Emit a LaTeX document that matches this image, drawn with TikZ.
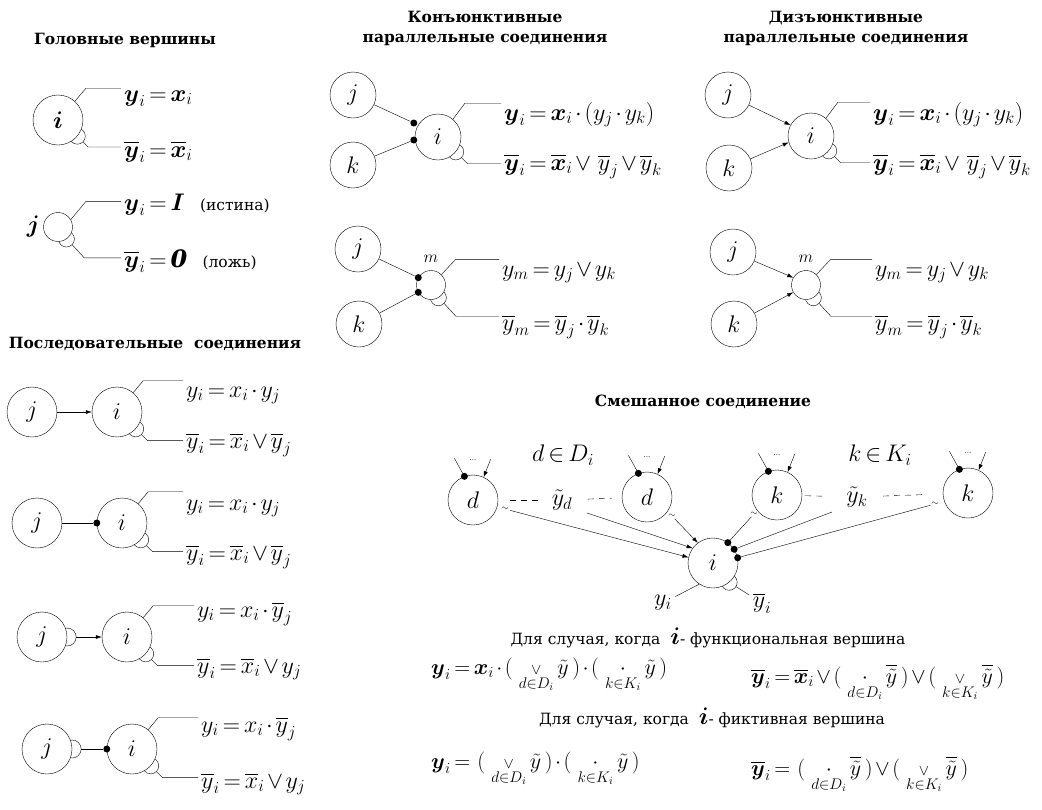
\RequirePackage{fix-cm}
\documentclass[tikz,border=0pt]{standalone}
\usepackage{amsmath}
\usepackage{fontspec}
\setmainfont{DejaVu Serif}
\usetikzlibrary{arrows.meta, calc}
\pgfdeclarelayer{behind}
\pgfsetlayers{behind,main}
\newcommand{\yy}{\boldsymbol{y}}
\newcommand{\xx}{\boldsymbol{x}}
\newcommand{\nyy}{\overline{\boldsymbol{y}}}
\newcommand{\nxx}{\overline{\boldsymbol{x}}}
\newcommand{\fmlfont}{\fontsize{24}{28}\selectfont}
\newcommand{\mixfont}{\fontsize{22}{26}\selectfont}
\newcommand{\txtfont}{\fontsize{15.5}{19}\selectfont}
\newcommand{\opor}[1]{\mathop{{\scriptstyle\vee}}\limits_{#1}}
\newcommand{\opand}[1]{\mathop{\cdot}\limits_{#1}}
\newcommand{\lp}{(\mkern5mu}
\newcommand{\rp}{\mkern3mu)}
\thickmuskip=3mu plus 2mu
\medmuskip=2mu plus 1mu

\begin{document}
\begin{tikzpicture}[x=1pt, y=-1pt,
  >={Latex[length=6pt,width=4pt]},
  font=\txtfont,
  title/.style={font=\fontsize{15.5}{20}\selectfont\bfseries, align=center},
  vert/.style={draw, circle, fill=white, inner sep=0pt, minimum size=50pt,
               font=\fontsize{24}{24}\selectfont},
  midvert/.style={vert, minimum size=46pt},
  fict/.style={vert, minimum size=29pt},
  inv/.style={draw, circle, inner sep=0pt, minimum size=16pt},
  jdot/.style={circle, fill, inner sep=0pt, minimum size=7pt},
  fml/.style={anchor=base west, inner sep=3pt, font=\fmlfont},
  tl/.style={inner sep=1pt, font=\fontsize{9}{9}\selectfont},
  ellip/.style={inner sep=0pt, font=\fontsize{7}{7}\selectfont},
  dashline/.style={dash pattern=on 6pt off 5pt}
]
\begin{pgfonlayer}{behind}
  \fill[white] (0,0) rectangle (1042,809);
\end{pgfonlayer}
\useasboundingbox (0,0) rectangle (1042,809);

% головные вершины
\node[title] (t1) at (125,40) {Головные вершины};
\node[vert] (hi) at (58,120) {$\boldsymbol{i}$};
\node[fict, label={[font=\fontsize{24}{24}\selectfont]left:$\boldsymbol{j}$}] (hj) at (58,227) {};
\node[fml] (hi1) at (121,101) {$\yy_i = \xx_i$};
\node[fml] (hi2) at (121,157) {$\nyy_i = \nxx_i$};
\node[fml] (hj1) at (121,210) {$\yy_i = \boldsymbol{I}$\ \ {\txtfont(истина)}};
\node[fml] (hj2) at (121,267) {$\nyy_i = \boldsymbol{\mathit{0}}$\ \ {\txtfont(ложь)}};
\begin{pgfonlayer}{behind}
  \node[inv] (hil) at (hi.-40) {};
  \node[inv] (hjl) at (hj.-55) {};
\end{pgfonlayer}
\draw (hi.48) -- ++(11,-13) coordinate (a) -- (a -| hi1.west);
\draw (hil.-45) -- ++(5,5) coordinate (a) -- (a -| hi2.west);
\draw (hj.30) -- ++(15,-18) coordinate (a) -- (a -| hj1.west);
\draw (hjl.-45) -- ++(12,13) coordinate (a) -- (a -| hj2.west);

% конъюнктивные
\node[title] (t2) at (485,28) {Конъюнктивные\\параллельные соединения};
\node[midvert] (cj) at (353,95) {$j$};
\node[midvert] (ck) at (353,165) {$k$};
\node[midvert] (ci) at (438,137) {$i$};
\node[jdot] (cd1) at ($(ci.west)+(-1,-14)$) {};
\node[jdot] (cd2) at ($(ci.west)+(-1,3)$) {};
\node[fml] (ci1) at (501,120) {$\yy_i = \xx_i \cdot (y_j \cdot y_k)$};
\node[fml] (ci2) at (501,170) {$\nyy_i = \nxx_i \vee\; \overline{y}_j \vee \overline{y}_k$};
\begin{pgfonlayer}{behind}
  \node[inv] (cil) at (ci.-40) {};
\end{pgfonlayer}
\draw (cj) -- (cd1);
\draw (ck) -- (cd2);
\draw (ci.50) -- ++(12,-16) coordinate (a) -- (a -| ci1.west);
\draw (cil.-45) -- ++(6,6) coordinate (a) -- (a -| ci2.west);

\node[midvert] (cj2) at (358,249) {$j$};
\node[midvert] (ck2) at (359,324) {$k$};
\node[fict, label={[font=\fontsize{17}{17}\selectfont, label distance=4pt]above:$m$}] (cm) at (431,285) {};
\node[jdot] (cm1d) at (cm.150) {};
\node[jdot] (cm2d) at (cm.210) {};
\node[fml] (cm1) at (499,276) {$y_m = y_j \vee y_k$};
\node[fml] (cm2) at (499,330) {$\overline{y}_m = \overline{y}_j \cdot \overline{y}_k$};
\begin{pgfonlayer}{behind}
  \node[inv] (cml) at (cm.-60) {};
\end{pgfonlayer}
\draw (cj2) -- (cm1d);
\draw (ck2) -- (cm2d);
\draw (cm.45) -- ++(14,-15) coordinate (a) -- (a -| cm1.west);
\draw (cml.-45) -- ++(12,13) coordinate (a) -- (a -| cm2.west);

% дизъюнктивные
\node[title] (t3) at (846,28) {Дизъюнктивные\\параллельные соединения};
\node[midvert] (dj) at (728,95) {$j$};
\node[midvert] (dk) at (729,168) {$k$};
\node[midvert] (di) at (811,136) {$i$};
\node[fml] (di1) at (870,120) {$\yy_i = \xx_i \cdot (y_j \cdot y_k)$};
\node[fml] (di2) at (870,170) {$\nyy_i = \nxx_i \vee\; \overline{y}_j \vee \overline{y}_k$};
\begin{pgfonlayer}{behind}
  \node[inv] (dil) at (di.-40) {};
\end{pgfonlayer}
\draw[->] (dj) -- (di.152);
\draw[->] (dk) -- (di.196);
\draw (di.50) -- ++(12,-16) coordinate (a) -- (a -| di1.west);
\draw (dil.-45) -- ++(6,6) coordinate (a) -- (a -| di2.west);

\node[midvert] (dj2) at (733,252) {$j$};
\node[midvert] (dk2) at (734,324) {$k$};
\node[fict, label={[font=\fontsize{17}{17}\selectfont, label distance=4pt]above:$m$}] (dm) at (806,285) {};
\node[fml] (dm1) at (872,276) {$y_m = y_j \vee y_k$};
\node[fml] (dm2) at (872,330) {$\overline{y}_m = \overline{y}_j \cdot \overline{y}_k$};
\begin{pgfonlayer}{behind}
  \node[inv] (dml) at (dm.-60) {};
\end{pgfonlayer}
\draw[->] (dj2) -- (dm.150);
\draw[->] (dk2) -- (dm.210);
\draw (dm.45) -- ++(14,-15) coordinate (a) -- (a -| dm1.west);
\draw (dml.-45) -- ++(12,13) coordinate (a) -- (a -| dm2.west);

% последовательные
\node[title] (t4) at (155,344) {Последовательные\ \ соединения};
\node[vert] (s1j) at (32,412) {$j$};
\node[vert] (s1i) at (117,412) {$i$};
\node[fml] (s1f1) at (183,397) {$y_i = x_i \cdot y_j$};
\node[fml] (s1f2) at (183,448) {$\overline{y}_i = \overline{x}_i \vee \overline{y}_j$};
\node[vert] (s2j) at (37,523) {$j$};
\node[vert] (s2i) at (122,523) {$i$};
\node[jdot] (s2d) at (s2i.west) {};
\node[fml] (s2f1) at (183,510) {$y_i = x_i \cdot y_j$};
\node[fml] (s2f2) at (183,560) {$\overline{y}_i = \overline{x}_i \vee \overline{y}_j$};
\node[vert] (s3j) at (42,637) {$j$};
\node[vert] (s3i) at (127,637) {$i$};
\node[fml] (s3f1) at (194,617) {$y_i = x_i \cdot \overline{y}_j$};
\node[fml] (s3f2) at (194,673) {$\overline{y}_i = \overline{x}_i \vee y_j$};
\node[vert] (s4j) at (47,749) {$j$};
\node[vert] (s4i) at (132,749) {$i$};
\node[jdot] (s4d) at (s4i.west) {};
\node[fml] (s4f1) at (198,732) {$y_i = x_i \cdot \overline{y}_j$};
\node[fml] (s4f2) at (198,788) {$\overline{y}_i = \overline{x}_i \vee y_j$};
\begin{pgfonlayer}{behind}
  \node[inv] (s1il) at (s1i.-42) {};
  \node[inv] (s2il) at (s2i.-42) {};
  \node[inv] (s3il) at (s3i.-42) {};
  \node[inv] (s4il) at (s4i.-42) {};
  \node[inv, minimum size=18pt] (s3jl) at (s3j.east) {};
  \node[inv, minimum size=18pt] (s4jl) at (s4j.east) {};
\end{pgfonlayer}
\draw[->] (s1j) -- (s1i);
\draw (s2j) -- (s2d);
\draw[->] (s3jl) -- (s3i);
\draw (s4jl) -- (s4d);
\foreach \s in {s1,s2,s3,s4}{
  \draw (\s i.50) -- ++(10,-12) coordinate (a) -- (a -| \s f1.west);
  \draw (\s il.-45) -- ++(6,6) coordinate (a) -- (a -| \s f2.west);
}

% смешанное
\node[title] (t5) at (703,402) {Смешанное соединение};
\node[vert] (md1) at (473,500) {$d$};
\node[vert] (md2) at (647,497) {$d$};
\node[vert] (mk1) at (777,495) {$k$};
\node[vert] (mk2) at (968,493) {$k$};
\node[vert] (mi) at (713,563) {$i$};
\node[font=\fmlfont] (yd) at (562,500) {$\tilde{y}_d$};
\node[font=\fmlfont] (yk) at (857,497) {$\tilde{y}_k$};
\node[font=\fmlfont] (dD) at (563,455) {$d \in D_i$};
\node[font=\fmlfont] (kK) at (880,455) {$k \in K_i$};
\foreach \v in {md1,md2,mk1,mk2}{
  \node[jdot] (\v d) at (\v.110) {};
  \draw (\v d.center) -- ++(-10,-18);
  \draw[->] ($(\v.65)+(7,-18)$) -- (\v.65);
  \node[ellip] at ($(\v.north)+(0,-15)$) {...};
}
\node[tl] (md1t) at (505,509) {$\sim$};
\node[tl] (md2t) at (672,516) {$\sim$};
\node[tl] (mk1t) at (754,514) {$\sim$};
\node[tl] (mk2t) at (935,504) {$\sim$};
\coordinate (dfrom) at (587,513);
\coordinate (kfrom) at (832,512);
\node[jdot] (mi1) at (mi.54) {};
\node[jdot] (mi2) at (mi.33) {};
\node[jdot] (mi3) at (mi.12) {};
\begin{pgfonlayer}{behind}
  \node[inv] (mil) at (mi.-50) {};
\end{pgfonlayer}
\draw[->] (md1t) -- (mi.167);
\draw[->] (dfrom) -- (mi.144);
\draw[->] (md2t) -- (mi.127);
\draw (mk1t) -- (mi1);
\draw (kfrom) -- (mi2);
\draw (mk2t) -- (mi3);
\draw[dashline, shorten <=12pt, shorten >=8pt] (md1) -- (yd);
\draw[dashline, shorten <=12pt, shorten >=10pt] (yd) -- (md2);
\draw[dashline, shorten <=3pt, shorten >=20pt] (mk1) -- (yk);
\draw[dashline, shorten <=12pt, shorten >=16pt] (yk) -- (mk2);
\node[font=\fmlfont] (myi) at (663,603) {$y_i$};
\node[font=\fmlfont] (mnyi) at (762,603) {$\overline{y}_i$};
\draw (mi.237) -- (myi);
\draw (mil) -- (mnyi);

\node (c1) at (708,638) {Для случая, когда\ \ {\fmlfont$\boldsymbol{i}$}- функциональная вершина};
\node[fml, font=\mixfont] (f1) at (428,674)
  {$\yy_i = \xx_i \cdot \lp\opor{d\in D_i}\tilde{y}\rp\cdot\lp\opand{k\in K_i}\tilde{y}\rp$};
\node[fml, font=\mixfont] (f2) at (748,683)
  {$\nyy_i = \nxx_i \vee \lp\opand{d\in D_i}\overline{\tilde{y}}\rp\vee\lp\opor{k\in K_i}\overline{\tilde{y}}\rp$};
\node (c2) at (712,718) {Для случая, когда\ \ {\fmlfont$\boldsymbol{i}$}- фиктивная вершина};
\node[fml, font=\mixfont] (f3) at (428,768)
  {$\yy_i = \;\lp\opor{d\in D_i}\tilde{y}\rp\cdot\lp\opand{k\in K_i}\tilde{y}\rp$};
\node[fml, font=\mixfont] (f4) at (748,775)
  {$\nyy_i = \;\lp\opand{d\in D_i}\overline{\tilde{y}}\rp\vee\lp\opor{k\in K_i}\overline{\tilde{y}}\rp$};
\end{tikzpicture}
\end{document}
